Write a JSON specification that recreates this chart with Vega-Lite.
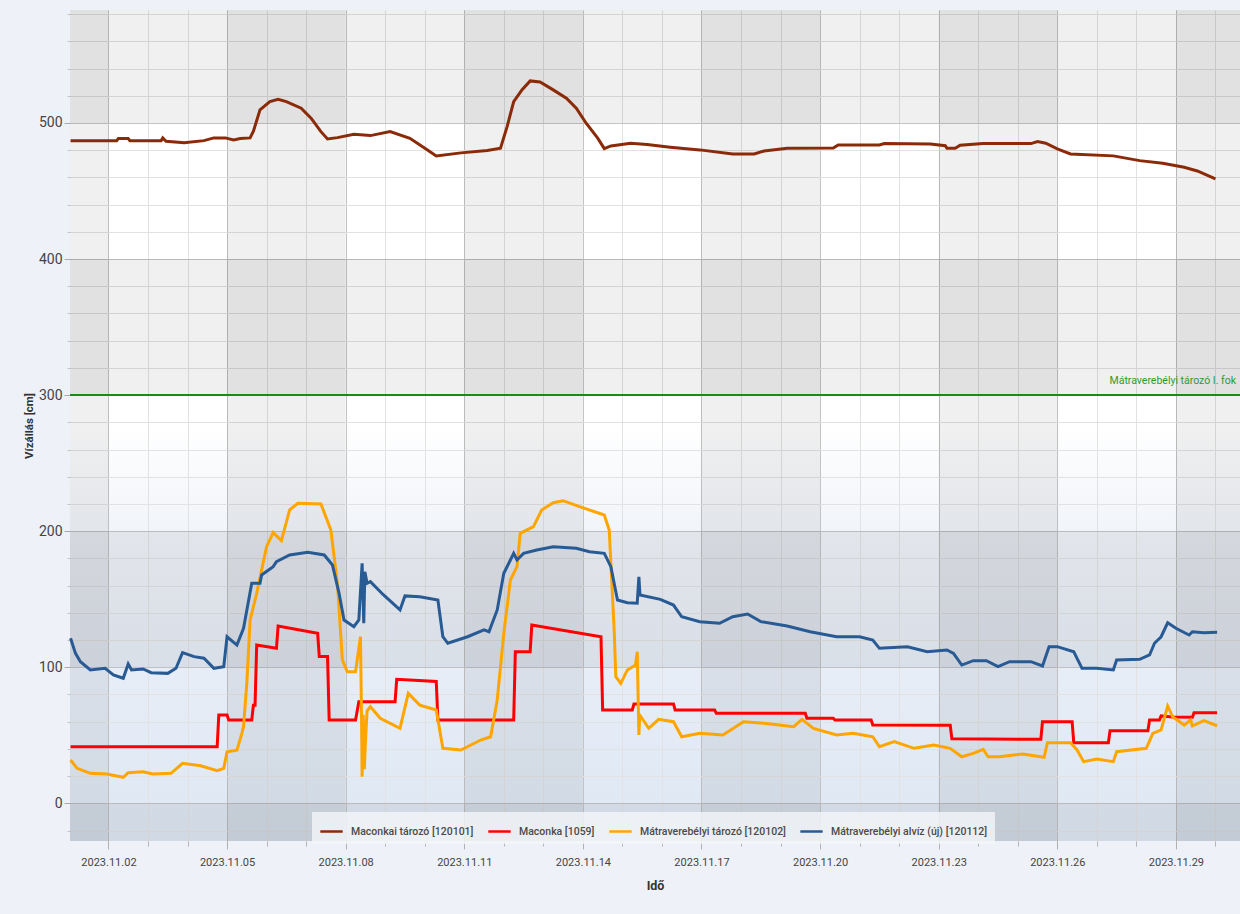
{
  "$schema": "https://vega.github.io/schema/vega-lite/v6.json",
  "width": 1170,
  "height": 831,
  "autosize": {"type": "none"},
  "padding": {"left": 70, "top": 10, "right": 0, "bottom": 73},
  "background": "#eef2f8",
  "view": {
    "stroke": null,
    "fill": {
      "gradient": "linear", "x1": 0, "y1": 0, "x2": 0, "y2": 1,
      "stops": [
        {"offset": 0, "color": "#ffffff"},
        {"offset": 0.5, "color": "#ffffff"},
        {"offset": 0.63, "color": "#f1f4f9"},
        {"offset": 0.8, "color": "#e6edf7"},
        {"offset": 1, "color": "#dee7f3"}
      ]
    }
  },
  "config": {"font": "Roboto"},
  "datasets": {
    "cols": [
      {"a": "2023-10-29T00:00", "b": "2023-11-02T00:00"},
      {"a": "2023-11-05T00:00", "b": "2023-11-08T00:00"},
      {"a": "2023-11-11T00:00", "b": "2023-11-14T00:00"},
      {"a": "2023-11-17T00:00", "b": "2023-11-20T00:00"},
      {"a": "2023-11-23T00:00", "b": "2023-11-26T00:00"},
      {"a": "2023-11-29T00:00", "b": "2023-12-03T00:00"}
    ],
    "rows": [
      {"lo": 500, "hi": 700},
      {"lo": 300, "hi": 400},
      {"lo": 100, "hi": 200},
      {"lo": -100, "hi": 0}
    ],
    "level": [
      {"label": "Mátraverebélyi tározó I. fok", "v": 300}
    ],
    "brown": [
      {"t": "2023-11-01T01:00", "v": 487},
      {"t": "2023-11-02T05:00", "v": 487},
      {"t": "2023-11-02T06:00", "v": 488.5},
      {"t": "2023-11-02T12:00", "v": 488.5},
      {"t": "2023-11-02T13:00", "v": 487},
      {"t": "2023-11-03T08:00", "v": 487},
      {"t": "2023-11-03T09:00", "v": 489},
      {"t": "2023-11-03T11:00", "v": 486.5},
      {"t": "2023-11-03T22:00", "v": 485.5},
      {"t": "2023-11-04T10:00", "v": 487},
      {"t": "2023-11-04T16:00", "v": 489},
      {"t": "2023-11-04T23:00", "v": 489},
      {"t": "2023-11-05T04:00", "v": 487.5},
      {"t": "2023-11-05T08:00", "v": 488.5},
      {"t": "2023-11-05T14:00", "v": 489},
      {"t": "2023-11-05T16:00", "v": 494},
      {"t": "2023-11-05T20:00", "v": 509.6},
      {"t": "2023-11-06T02:00", "v": 515.7},
      {"t": "2023-11-06T07:00", "v": 517.4},
      {"t": "2023-11-06T12:00", "v": 515.7},
      {"t": "2023-11-06T21:00", "v": 510.8},
      {"t": "2023-11-07T03:00", "v": 503.5},
      {"t": "2023-11-07T09:00", "v": 493.6},
      {"t": "2023-11-07T13:00", "v": 488.2},
      {"t": "2023-11-07T19:00", "v": 489.2},
      {"t": "2023-11-08T05:00", "v": 491.7},
      {"t": "2023-11-08T15:00", "v": 490.7},
      {"t": "2023-11-09T03:00", "v": 493.6},
      {"t": "2023-11-09T15:00", "v": 488.7},
      {"t": "2023-11-10T01:00", "v": 480.7},
      {"t": "2023-11-10T07:00", "v": 475.8},
      {"t": "2023-11-10T22:00", "v": 478},
      {"t": "2023-11-11T14:00", "v": 479.7},
      {"t": "2023-11-11T22:00", "v": 481.4},
      {"t": "2023-11-12T02:00", "v": 497.3},
      {"t": "2023-11-12T06:00", "v": 515.7},
      {"t": "2023-11-12T11:00", "v": 524.3},
      {"t": "2023-11-12T16:00", "v": 530.9},
      {"t": "2023-11-12T22:00", "v": 530.1},
      {"t": "2023-11-13T06:00", "v": 524.3},
      {"t": "2023-11-13T14:00", "v": 518.2},
      {"t": "2023-11-13T20:00", "v": 510.8},
      {"t": "2023-11-14T02:00", "v": 499.8},
      {"t": "2023-11-14T09:00", "v": 488.8},
      {"t": "2023-11-14T13:00", "v": 481.1},
      {"t": "2023-11-14T17:00", "v": 483.1},
      {"t": "2023-11-15T05:00", "v": 485.1},
      {"t": "2023-11-15T15:00", "v": 484.1},
      {"t": "2023-11-16T05:00", "v": 482.2},
      {"t": "2023-11-16T23:00", "v": 480.2},
      {"t": "2023-11-17T19:00", "v": 477.2},
      {"t": "2023-11-18T08:00", "v": 477.2},
      {"t": "2023-11-18T14:00", "v": 479.4},
      {"t": "2023-11-19T04:00", "v": 481.4},
      {"t": "2023-11-20T08:00", "v": 481.6},
      {"t": "2023-11-20T11:00", "v": 483.8},
      {"t": "2023-11-21T12:00", "v": 483.8},
      {"t": "2023-11-21T15:00", "v": 484.8},
      {"t": "2023-11-22T19:00", "v": 484.6},
      {"t": "2023-11-23T04:00", "v": 483.3},
      {"t": "2023-11-23T05:00", "v": 481.4},
      {"t": "2023-11-23T10:00", "v": 481.4},
      {"t": "2023-11-23T13:00", "v": 483.6},
      {"t": "2023-11-24T03:00", "v": 484.8},
      {"t": "2023-11-25T08:00", "v": 484.8},
      {"t": "2023-11-25T12:00", "v": 486.3},
      {"t": "2023-11-25T17:00", "v": 485.1},
      {"t": "2023-11-26T00:00", "v": 480.9},
      {"t": "2023-11-26T08:00", "v": 477.2},
      {"t": "2023-11-27T10:00", "v": 475.8},
      {"t": "2023-11-28T02:00", "v": 472.3},
      {"t": "2023-11-28T16:00", "v": 470.4},
      {"t": "2023-11-29T05:00", "v": 467.4},
      {"t": "2023-11-29T13:00", "v": 464.7},
      {"t": "2023-11-30T00:00", "v": 458.9}
    ],
    "red": [
      {"t": "2023-11-01T01:00", "v": 41.6},
      {"t": "2023-11-04T18:00", "v": 41.6},
      {"t": "2023-11-04T19:00", "v": 64.9},
      {"t": "2023-11-05T00:00", "v": 64.9},
      {"t": "2023-11-05T01:00", "v": 61.2},
      {"t": "2023-11-05T15:00", "v": 61.2},
      {"t": "2023-11-05T16:00", "v": 72},
      {"t": "2023-11-05T17:00", "v": 72},
      {"t": "2023-11-05T18:00", "v": 116.3},
      {"t": "2023-11-06T06:00", "v": 113.9},
      {"t": "2023-11-06T07:00", "v": 130.3},
      {"t": "2023-11-07T07:00", "v": 124.9},
      {"t": "2023-11-07T08:00", "v": 107.8},
      {"t": "2023-11-07T13:00", "v": 107.8},
      {"t": "2023-11-07T14:00", "v": 61.2},
      {"t": "2023-11-08T06:00", "v": 61.2},
      {"t": "2023-11-08T08:00", "v": 74.7},
      {"t": "2023-11-09T06:00", "v": 74.7},
      {"t": "2023-11-09T07:00", "v": 91.1},
      {"t": "2023-11-10T07:00", "v": 89.5},
      {"t": "2023-11-10T08:00", "v": 61.2},
      {"t": "2023-11-12T06:00", "v": 61.2},
      {"t": "2023-11-12T07:00", "v": 111.4},
      {"t": "2023-11-12T16:00", "v": 111.4},
      {"t": "2023-11-12T17:00", "v": 131},
      {"t": "2023-11-14T11:00", "v": 122.4},
      {"t": "2023-11-14T12:00", "v": 68.6},
      {"t": "2023-11-15T06:00", "v": 68.6},
      {"t": "2023-11-15T07:00", "v": 73},
      {"t": "2023-11-16T07:00", "v": 73},
      {"t": "2023-11-16T08:00", "v": 68.6},
      {"t": "2023-11-17T08:00", "v": 68.6},
      {"t": "2023-11-17T09:00", "v": 66.1},
      {"t": "2023-11-19T15:00", "v": 66.1},
      {"t": "2023-11-19T16:00", "v": 62.5},
      {"t": "2023-11-20T08:00", "v": 62.5},
      {"t": "2023-11-20T09:00", "v": 61.2},
      {"t": "2023-11-21T07:00", "v": 61.2},
      {"t": "2023-11-21T08:00", "v": 57.5},
      {"t": "2023-11-23T07:00", "v": 57.3},
      {"t": "2023-11-23T08:00", "v": 47.4},
      {"t": "2023-11-25T14:00", "v": 47},
      {"t": "2023-11-25T15:00", "v": 60},
      {"t": "2023-11-26T09:00", "v": 60},
      {"t": "2023-11-26T10:00", "v": 44.5},
      {"t": "2023-11-27T07:00", "v": 44.5},
      {"t": "2023-11-27T08:00", "v": 53.4},
      {"t": "2023-11-28T07:00", "v": 53.4},
      {"t": "2023-11-28T08:00", "v": 61.2},
      {"t": "2023-11-28T14:00", "v": 61.2},
      {"t": "2023-11-28T15:00", "v": 64.2},
      {"t": "2023-11-28T22:00", "v": 63.5},
      {"t": "2023-11-29T10:00", "v": 63.2},
      {"t": "2023-11-29T11:00", "v": 66.6},
      {"t": "2023-11-30T01:00", "v": 66.6}
    ],
    "orange": [
      {"t": "2023-11-01T01:00", "v": 31.8},
      {"t": "2023-11-01T05:00", "v": 25.7},
      {"t": "2023-11-01T13:00", "v": 22},
      {"t": "2023-11-01T23:00", "v": 21.5},
      {"t": "2023-11-02T09:00", "v": 19.1},
      {"t": "2023-11-02T12:00", "v": 22.5},
      {"t": "2023-11-02T21:00", "v": 23.2},
      {"t": "2023-11-03T03:00", "v": 21.5},
      {"t": "2023-11-03T14:00", "v": 22},
      {"t": "2023-11-03T21:00", "v": 29.4},
      {"t": "2023-11-04T08:00", "v": 27.6},
      {"t": "2023-11-04T18:00", "v": 24},
      {"t": "2023-11-04T22:00", "v": 25.7},
      {"t": "2023-11-05T00:00", "v": 37.9},
      {"t": "2023-11-05T06:00", "v": 39},
      {"t": "2023-11-05T09:00", "v": 51.4},
      {"t": "2023-11-05T10:00", "v": 56.3},
      {"t": "2023-11-05T12:00", "v": 88.2},
      {"t": "2023-11-05T14:00", "v": 134.7},
      {"t": "2023-11-05T18:00", "v": 154.3},
      {"t": "2023-11-05T21:00", "v": 171.5},
      {"t": "2023-11-06T00:00", "v": 188.6},
      {"t": "2023-11-06T04:00", "v": 198.9},
      {"t": "2023-11-06T09:00", "v": 193},
      {"t": "2023-11-06T14:00", "v": 215.6},
      {"t": "2023-11-06T19:00", "v": 220.5},
      {"t": "2023-11-07T09:00", "v": 220},
      {"t": "2023-11-07T15:00", "v": 200.9},
      {"t": "2023-11-07T19:00", "v": 161.7},
      {"t": "2023-11-07T22:00", "v": 105.3},
      {"t": "2023-11-08T01:00", "v": 96.7},
      {"t": "2023-11-08T06:00", "v": 96.7},
      {"t": "2023-11-08T09:00", "v": 122.4},
      {"t": "2023-11-08T09:40", "v": 60},
      {"t": "2023-11-08T10:00", "v": 19.6},
      {"t": "2023-11-08T10:40", "v": 65},
      {"t": "2023-11-08T11:20", "v": 25},
      {"t": "2023-11-08T12:00", "v": 45},
      {"t": "2023-11-08T13:00", "v": 68},
      {"t": "2023-11-08T15:00", "v": 71},
      {"t": "2023-11-08T21:00", "v": 62.5},
      {"t": "2023-11-09T09:00", "v": 55.1},
      {"t": "2023-11-09T14:00", "v": 80.8},
      {"t": "2023-11-09T21:00", "v": 72.2},
      {"t": "2023-11-10T07:00", "v": 68.6},
      {"t": "2023-11-10T11:00", "v": 40.4},
      {"t": "2023-11-10T22:00", "v": 39.2},
      {"t": "2023-11-11T10:00", "v": 46.5},
      {"t": "2023-11-11T16:00", "v": 48.9},
      {"t": "2023-11-11T20:00", "v": 75.9},
      {"t": "2023-11-12T00:00", "v": 124.9},
      {"t": "2023-11-12T04:00", "v": 164.1},
      {"t": "2023-11-12T08:00", "v": 173.9},
      {"t": "2023-11-12T10:00", "v": 198.4},
      {"t": "2023-11-12T18:00", "v": 203.3},
      {"t": "2023-11-12T23:00", "v": 215.6},
      {"t": "2023-11-13T06:00", "v": 220.9},
      {"t": "2023-11-13T12:00", "v": 222.4},
      {"t": "2023-11-13T22:00", "v": 218},
      {"t": "2023-11-14T13:00", "v": 211.9},
      {"t": "2023-11-14T16:00", "v": 200.9},
      {"t": "2023-11-14T19:00", "v": 127.4},
      {"t": "2023-11-14T20:00", "v": 93},
      {"t": "2023-11-14T23:00", "v": 88.2},
      {"t": "2023-11-15T03:00", "v": 98},
      {"t": "2023-11-15T08:00", "v": 101.6},
      {"t": "2023-11-15T09:00", "v": 111.4},
      {"t": "2023-11-15T10:00", "v": 50.2},
      {"t": "2023-11-15T10:30", "v": 64.9},
      {"t": "2023-11-15T16:00", "v": 55.1},
      {"t": "2023-11-15T22:00", "v": 61.7},
      {"t": "2023-11-16T07:00", "v": 60},
      {"t": "2023-11-16T12:00", "v": 48.9},
      {"t": "2023-11-16T23:00", "v": 51.4},
      {"t": "2023-11-17T13:00", "v": 50.2},
      {"t": "2023-11-18T01:30", "v": 60},
      {"t": "2023-11-18T14:00", "v": 58.8},
      {"t": "2023-11-19T08:00", "v": 56.3},
      {"t": "2023-11-19T13:00", "v": 61.7},
      {"t": "2023-11-19T20:00", "v": 55.1},
      {"t": "2023-11-20T10:00", "v": 50.2},
      {"t": "2023-11-20T20:00", "v": 51.4},
      {"t": "2023-11-21T02:00", "v": 50.2},
      {"t": "2023-11-21T08:00", "v": 48.9},
      {"t": "2023-11-21T12:00", "v": 41.6},
      {"t": "2023-11-21T21:00", "v": 45.3},
      {"t": "2023-11-22T09:00", "v": 40.4},
      {"t": "2023-11-22T21:00", "v": 42.8},
      {"t": "2023-11-23T07:00", "v": 40.4},
      {"t": "2023-11-23T14:00", "v": 34.2},
      {"t": "2023-11-23T21:00", "v": 36.7},
      {"t": "2023-11-24T03:00", "v": 39.7},
      {"t": "2023-11-24T06:00", "v": 34.2},
      {"t": "2023-11-24T13:00", "v": 34.2},
      {"t": "2023-11-25T03:00", "v": 36.2},
      {"t": "2023-11-25T16:00", "v": 33.8},
      {"t": "2023-11-25T18:00", "v": 44.5},
      {"t": "2023-11-26T08:00", "v": 44.5},
      {"t": "2023-11-26T12:00", "v": 39.2},
      {"t": "2023-11-26T16:00", "v": 30.6},
      {"t": "2023-11-27T00:00", "v": 32.6},
      {"t": "2023-11-27T10:00", "v": 30.6},
      {"t": "2023-11-27T12:00", "v": 37.9},
      {"t": "2023-11-28T06:00", "v": 40.4},
      {"t": "2023-11-28T10:00", "v": 51.4},
      {"t": "2023-11-28T15:00", "v": 53.9},
      {"t": "2023-11-28T19:00", "v": 71.5},
      {"t": "2023-11-28T22:00", "v": 63.6},
      {"t": "2023-11-29T05:00", "v": 57.5},
      {"t": "2023-11-29T09:00", "v": 61.2},
      {"t": "2023-11-29T10:00", "v": 56.8},
      {"t": "2023-11-29T17:00", "v": 60.7},
      {"t": "2023-11-30T01:00", "v": 57}
    ],
    "blue": [
      {"t": "2023-11-01T01:00", "v": 121.3},
      {"t": "2023-11-01T04:00", "v": 110.2},
      {"t": "2023-11-01T07:00", "v": 104.1},
      {"t": "2023-11-01T13:00", "v": 98},
      {"t": "2023-11-01T22:00", "v": 99.2},
      {"t": "2023-11-02T03:00", "v": 94.3},
      {"t": "2023-11-02T09:00", "v": 91.9},
      {"t": "2023-11-02T12:00", "v": 102.4},
      {"t": "2023-11-02T14:00", "v": 98},
      {"t": "2023-11-02T21:00", "v": 98.7},
      {"t": "2023-11-03T02:00", "v": 96},
      {"t": "2023-11-03T12:00", "v": 95.5},
      {"t": "2023-11-03T17:00", "v": 99.2},
      {"t": "2023-11-03T21:00", "v": 110.7},
      {"t": "2023-11-04T04:00", "v": 107.8},
      {"t": "2023-11-04T10:00", "v": 106.6},
      {"t": "2023-11-04T16:00", "v": 99.2},
      {"t": "2023-11-04T22:00", "v": 100.4},
      {"t": "2023-11-05T00:00", "v": 122.4},
      {"t": "2023-11-05T06:00", "v": 116.3},
      {"t": "2023-11-05T10:00", "v": 128.6},
      {"t": "2023-11-05T15:00", "v": 161.7},
      {"t": "2023-11-05T20:00", "v": 161.7},
      {"t": "2023-11-05T21:00", "v": 167.8},
      {"t": "2023-11-06T04:00", "v": 173.9},
      {"t": "2023-11-06T06:00", "v": 177.6},
      {"t": "2023-11-06T14:00", "v": 182.5},
      {"t": "2023-11-07T01:00", "v": 184.5},
      {"t": "2023-11-07T11:00", "v": 182.5},
      {"t": "2023-11-07T16:00", "v": 175.1},
      {"t": "2023-11-07T20:00", "v": 154.3},
      {"t": "2023-11-07T23:00", "v": 134.7},
      {"t": "2023-11-08T05:00", "v": 129.8},
      {"t": "2023-11-08T08:00", "v": 134.7},
      {"t": "2023-11-08T10:00", "v": 176.4},
      {"t": "2023-11-08T11:00", "v": 132.3},
      {"t": "2023-11-08T11:40", "v": 170.2},
      {"t": "2023-11-08T13:00", "v": 161.7},
      {"t": "2023-11-08T15:00", "v": 162.9},
      {"t": "2023-11-08T23:00", "v": 153.1},
      {"t": "2023-11-09T09:00", "v": 142.1},
      {"t": "2023-11-09T12:00", "v": 152.4},
      {"t": "2023-11-09T21:00", "v": 151.8},
      {"t": "2023-11-10T08:00", "v": 149.4},
      {"t": "2023-11-10T11:00", "v": 122.4},
      {"t": "2023-11-10T14:00", "v": 117.6},
      {"t": "2023-11-11T02:00", "v": 122.4},
      {"t": "2023-11-11T12:00", "v": 127.4},
      {"t": "2023-11-11T15:00", "v": 126.1},
      {"t": "2023-11-11T20:00", "v": 142.1},
      {"t": "2023-11-12T00:00", "v": 169},
      {"t": "2023-11-12T04:00", "v": 178.8},
      {"t": "2023-11-12T06:00", "v": 183.7},
      {"t": "2023-11-12T08:00", "v": 178.8},
      {"t": "2023-11-12T12:00", "v": 183.7},
      {"t": "2023-11-12T20:00", "v": 186.1},
      {"t": "2023-11-13T06:00", "v": 188.6},
      {"t": "2023-11-13T20:00", "v": 187.4},
      {"t": "2023-11-14T04:00", "v": 184.9},
      {"t": "2023-11-14T13:00", "v": 183.7},
      {"t": "2023-11-14T17:00", "v": 173.9},
      {"t": "2023-11-14T21:00", "v": 149.4},
      {"t": "2023-11-15T03:00", "v": 147.4},
      {"t": "2023-11-15T09:00", "v": 147},
      {"t": "2023-11-15T10:00", "v": 166.5},
      {"t": "2023-11-15T10:40", "v": 153.1},
      {"t": "2023-11-15T23:00", "v": 149.9},
      {"t": "2023-11-16T07:00", "v": 145.7},
      {"t": "2023-11-16T12:00", "v": 137.1},
      {"t": "2023-11-16T23:00", "v": 133.5},
      {"t": "2023-11-17T11:00", "v": 132.3},
      {"t": "2023-11-17T19:00", "v": 137.1},
      {"t": "2023-11-18T04:00", "v": 139.1},
      {"t": "2023-11-18T12:00", "v": 133.5},
      {"t": "2023-11-19T04:00", "v": 130.3},
      {"t": "2023-11-19T18:00", "v": 126.1},
      {"t": "2023-11-20T10:00", "v": 122.4},
      {"t": "2023-11-21T00:00", "v": 122.4},
      {"t": "2023-11-21T08:00", "v": 120},
      {"t": "2023-11-21T12:00", "v": 113.9},
      {"t": "2023-11-22T05:00", "v": 115.1},
      {"t": "2023-11-22T17:00", "v": 111.4},
      {"t": "2023-11-23T05:00", "v": 112.7},
      {"t": "2023-11-23T09:00", "v": 110.2},
      {"t": "2023-11-23T14:00", "v": 101.6},
      {"t": "2023-11-23T21:00", "v": 104.8},
      {"t": "2023-11-24T05:00", "v": 104.8},
      {"t": "2023-11-24T12:00", "v": 100.4},
      {"t": "2023-11-24T19:00", "v": 104.1},
      {"t": "2023-11-25T08:00", "v": 104.1},
      {"t": "2023-11-25T15:00", "v": 100.9},
      {"t": "2023-11-25T19:00", "v": 115.1},
      {"t": "2023-11-26T00:00", "v": 115.1},
      {"t": "2023-11-26T10:00", "v": 111.4},
      {"t": "2023-11-26T15:00", "v": 99.2},
      {"t": "2023-11-27T00:00", "v": 99.2},
      {"t": "2023-11-27T10:00", "v": 98},
      {"t": "2023-11-27T12:00", "v": 105.3},
      {"t": "2023-11-28T02:00", "v": 105.8},
      {"t": "2023-11-28T08:00", "v": 109},
      {"t": "2023-11-28T11:00", "v": 117.6},
      {"t": "2023-11-28T15:00", "v": 122.4},
      {"t": "2023-11-28T19:00", "v": 132.7},
      {"t": "2023-11-29T00:00", "v": 128.6},
      {"t": "2023-11-29T08:00", "v": 123.7},
      {"t": "2023-11-29T10:00", "v": 126.1},
      {"t": "2023-11-29T17:00", "v": 125.4},
      {"t": "2023-11-30T01:00", "v": 125.7}
    ]
  },
  "layer": [
    {
      "data": {"name": "cols"},
      "mark": {"type": "rect", "color": "#000000", "opacity": 0.06, "clip": true},
      "encoding": {
        "x": {
          "field": "a", "type": "temporal",
          "scale": {"domain": [{"year": 2023, "month": 11, "date": 1, "hours": 0, "minutes": 40}, {"year": 2023, "month": 11, "date": 30, "hours": 14, "minutes": 54}]},
          "axis": {
            "orient": "bottom",
            "tickCount": {"interval": "day", "step": 1},
            "labels": false, "title": null, "domain": false,
            "grid": true, "gridColor": "#e2e2e2", "gridWidth": 1,
            "ticks": true, "tickSize": 5, "tickColor": "#b4b4b4"
          }
        },
        "x2": {"field": "b"}
      }
    },
    {
      "data": {"name": "rows"},
      "mark": {"type": "rect", "color": "#000000", "opacity": 0.06, "clip": true},
      "encoding": {
        "y": {
          "field": "lo", "type": "quantitative",
          "scale": {"domain": [-27.7, 583], "nice": false, "zero": false},
          "axis": {
            "orient": "left",
            "values": [-20, 0, 20, 40, 60, 80, 100, 120, 140, 160, 180, 200, 220, 240, 260, 280, 300, 320, 340, 360, 380, 400, 420, 440, 460, 480, 500, 520, 540, 560, 580],
            "labels": false, "title": null, "domain": false,
            "grid": true, "gridColor": "#e2e2e2", "gridWidth": 1,
            "ticks": true, "tickSize": 3, "tickColor": "#c4c4c4"
          }
        },
        "y2": {"field": "hi"}
      }
    },
    {
      "data": {"name": "level"},
      "mark": {"type": "rule", "color": "#1a8a1a", "strokeWidth": 2},
      "encoding": {
        "y": {"field": "v", "type": "quantitative", "axis": null}
      }
    },
    {
      "data": {"name": "level"},
      "mark": {"type": "text", "align": "right", "baseline": "alphabetic", "dx": -4, "dy": -11, "color": "#2e9a2e", "fontSize": 10.5, "font": "Roboto"},
      "encoding": {
        "x": {"datum": {"year": 2023, "month": 11, "date": 30, "hours": 14, "minutes": 54}, "type": "temporal", "axis": null},
        "y": {"field": "v", "type": "quantitative", "axis": null},
        "text": {"field": "label"}
      }
    },
    {
      "data": {"name": "brown"},
      "mark": {"type": "line", "strokeWidth": 3},
      "encoding": {
        "x": {
          "field": "t", "type": "temporal",
          "axis": {
            "orient": "bottom",
            "values": [
              {"year": 2023, "month": 11, "date": 2}, {"year": 2023, "month": 11, "date": 5},
              {"year": 2023, "month": 11, "date": 8}, {"year": 2023, "month": 11, "date": 11},
              {"year": 2023, "month": 11, "date": 14}, {"year": 2023, "month": 11, "date": 17},
              {"year": 2023, "month": 11, "date": 20}, {"year": 2023, "month": 11, "date": 23},
              {"year": 2023, "month": 11, "date": 26}, {"year": 2023, "month": 11, "date": 29}
            ],
            "format": "%Y.%m.%d", "domain": false,
            "grid": true, "gridColor": "#c4c4c4", "gridWidth": 1,
            "ticks": true, "tickSize": 8, "tickColor": "#b0b0b0",
            "labelFont": "Roboto", "labelFontSize": 11, "labelColor": "#444444", "labelPadding": 7,
            "title": "Idő", "titleFont": "Roboto", "titleFontSize": 12.5, "titleFontWeight": "bold", "titleColor": "#333333", "titlePadding": 12
          }
        },
        "y": {
          "field": "v", "type": "quantitative",
          "axis": {
            "orient": "left",
            "values": [0, 100, 200, 300, 400, 500],
            "domain": false,
            "grid": true, "gridColor": "#c4c4c4", "gridWidth": 1,
            "ticks": true, "tickSize": 6, "tickColor": "#aaaaaa",
            "labelFont": "Roboto", "labelFontSize": 14, "labelColor": "#444444", "labelPadding": 2,
            "title": "Vízállás [cm]", "titleFont": "Roboto", "titleFontSize": 11.5, "titleFontWeight": "bold", "titleColor": "#333333", "titlePadding": 4
          }
        },
        "color": {
          "datum": "Maconkai tározó [120101]",
          "scale": {
            "domain": ["Maconkai tározó [120101]", "Maconka [1059]", "Mátraverebélyi tározó [120102]", "Mátraverebélyi alvíz (új) [120112]"],
            "range": ["#8b2a08", "#ff0000", "#ffa500", "#285a94"]
          },
          "legend": {
            "orient": "none", "legendX": 242, "legendY": 802, "direction": "horizontal",
            "title": null, "fillColor": "rgba(244,246,249,0.8)", "padding": 7,
            "symbolType": "stroke", "symbolSize": 500, "symbolStrokeWidth": 2.5,
            "labelFont": "Roboto", "labelFontSize": 10.5, "labelFontWeight": 500, "labelColor": "#4a4a4a",
            "labelOffset": 7, "columnPadding": 9, "labelLimit": 300
          }
        }
      }
    },
    {
      "data": {"name": "red"},
      "mark": {"type": "line", "strokeWidth": 3},
      "encoding": {
        "x": {"field": "t", "type": "temporal", "axis": null},
        "y": {"field": "v", "type": "quantitative", "axis": null},
        "color": {"datum": "Maconka [1059]"}
      }
    },
    {
      "data": {"name": "orange"},
      "mark": {"type": "line", "strokeWidth": 3},
      "encoding": {
        "x": {"field": "t", "type": "temporal", "axis": null},
        "y": {"field": "v", "type": "quantitative", "axis": null},
        "color": {"datum": "Mátraverebélyi tározó [120102]"}
      }
    },
    {
      "data": {"name": "blue"},
      "mark": {"type": "line", "strokeWidth": 3},
      "encoding": {
        "x": {"field": "t", "type": "temporal", "axis": null},
        "y": {"field": "v", "type": "quantitative", "axis": null},
        "color": {"datum": "Mátraverebélyi alvíz (új) [120112]"}
      }
    }
  ],
  "resolve": {"axis": {"x": "independent", "y": "independent"}}
}
